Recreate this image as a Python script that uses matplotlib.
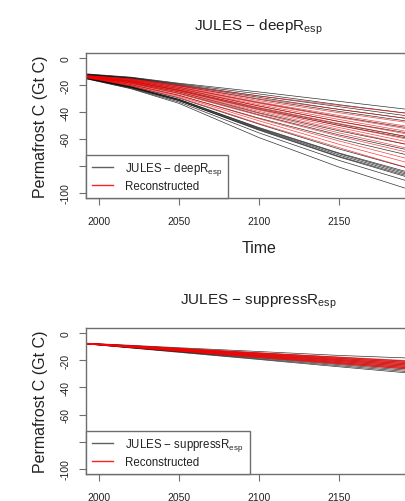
import matplotlib
matplotlib.use("Agg")
import matplotlib.pyplot as plt

plt.rcParams['font.family'] = ['Liberation Sans', 'DejaVu Sans']
plt.rcParams['mathtext.fontset'] = 'custom'
plt.rcParams['mathtext.rm'] = 'Liberation Sans'
plt.rcParams['mathtext.it'] = 'Liberation Sans'

years = [1992, 2020, 2050, 2100, 2150, 2200]

jules_deep = [
    [-11.5, -14.0, -18.5, -25.0, -32.0, -39],
    [-11.8, -14.3, -19.0, -26.5, -34.5, -42],
    [-12.0, -14.6, -19.5, -28.0, -36.0, -44],
    [-12.2, -14.8, -20.0, -29.0, -38.0, -46],
    [-12.5, -15.2, -20.5, -30.5, -39.5, -48],
    [-12.8, -15.8, -21.5, -33.0, -43.5, -53],
    [-13.0, -16.5, -22.5, -35.5, -47.0, -57],
    [-13.2, -17.0, -23.5, -37.0, -49.0, -60],
    [-13.3, -17.3, -24.0, -38.0, -50.0, -61],
    [-13.5, -18.0, -25.0, -40.5, -54.0, -66],
    [-13.7, -18.5, -26.0, -42.0, -57.0, -70],
    [-14.0, -19.5, -27.5, -44.5, -60.0, -74],
    [-14.2, -20.5, -29.5, -49.0, -67.5, -84],
    [-14.4, -21.0, -30.5, -51.5, -70.5, -87],
    [-14.5, -21.2, -30.5, -52.0, -71.0, -88],
    [-14.6, -21.4, -31.0, -52.5, -72.0, -89],
    [-14.7, -21.6, -31.5, -53.0, -73.0, -90],
    [-14.8, -21.8, -31.5, -53.5, -73.5, -91],
    [-15.0, -22.2, -32.5, -55.5, -76.0, -94],
    [-15.2, -22.6, -33.5, -59.0, -81.0, -100],
]

recon_deep = [
    [-12.8, -15.2, -20.0, -28.0, -35.0, -42],
    [-13.0, -15.6, -20.5, -30.0, -38.0, -46],
    [-13.1, -15.9, -21.0, -31.5, -40.5, -49],
    [-13.2, -16.2, -21.5, -32.5, -42.5, -52],
    [-13.3, -16.5, -22.0, -33.5, -44.0, -54],
    [-13.4, -16.8, -22.5, -34.5, -45.5, -56],
    [-13.5, -17.1, -23.0, -35.5, -47.0, -58],
    [-13.6, -17.4, -23.5, -36.5, -48.5, -60],
    [-13.7, -17.7, -24.0, -37.5, -50.0, -62],
    [-13.8, -18.0, -24.5, -38.5, -51.5, -64],
    [-13.9, -18.3, -25.0, -39.5, -53.0, -66],
    [-14.0, -18.7, -25.8, -41.0, -55.5, -69],
    [-14.1, -19.1, -26.5, -42.5, -58.0, -72],
    [-14.2, -19.6, -27.5, -45.0, -61.5, -77],
    [-14.3, -20.0, -28.2, -46.5, -64.0, -80],
    [-14.4, -20.5, -29.0, -48.5, -66.5, -84],
]

jules_suppress = [
    [-7.2, -8.8, -10.6, -13.4, -16.3, -18.5],
    [-7.3, -9.1, -11.1, -14.4, -17.7, -21.0],
    [-7.4, -9.4, -11.5, -15.0, -18.5, -22.0],
    [-7.4, -9.5, -11.8, -15.5, -19.3, -23.0],
    [-7.5, -9.7, -12.1, -16.1, -20.0, -24.0],
    [-7.5, -9.9, -12.4, -16.6, -20.8, -25.0],
    [-7.6, -10.1, -12.7, -17.1, -21.6, -26.0],
    [-7.6, -10.2, -13.0, -17.7, -22.3, -27.0],
    [-7.7, -10.4, -13.4, -18.2, -23.1, -28.0],
    [-7.7, -10.6, -13.6, -18.8, -23.9, -29.0],
    [-7.8, -10.8, -14.0, -19.3, -24.7, -30.0],
]

recon_suppress = [
    [-7.3, -9.1, -11.0, -14.3, -17.4, -20.5],
    [-7.3, -9.2, -11.2, -14.6, -17.9, -21.0],
    [-7.4, -9.3, -11.4, -14.9, -18.3, -21.5],
    [-7.4, -9.4, -11.5, -15.1, -18.7, -22.0],
    [-7.5, -9.5, -11.7, -15.4, -19.1, -22.5],
    [-7.5, -9.6, -11.9, -15.7, -19.5, -23.0],
    [-7.5, -9.7, -12.0, -16.0, -19.9, -23.5],
    [-7.6, -9.8, -12.2, -16.2, -20.2, -24.0],
    [-7.6, -9.9, -12.4, -16.5, -20.6, -24.5],
    [-7.6, -10.0, -12.5, -16.8, -21.0, -25.0],
    [-7.7, -10.1, -12.7, -17.0, -21.4, -25.5],
    [-7.7, -10.2, -12.9, -17.3, -21.8, -26.0],
    [-7.7, -10.3, -13.0, -17.6, -22.2, -26.5],
    [-7.8, -10.4, -13.2, -17.9, -22.6, -27.0],
]

xticks = [2000, 2050, 2100, 2150, 2200]
xtick_labels = ['2000', '2050', '2100', '2150', '']
yticks = [0, -20, -40, -60, -80, -100]
ytick_labels = ['0', '-20', '-40', '-60', '', '-100']

W, H = 406, 502
fig = plt.figure(figsize=(W / 100, H / 100), dpi=100)

spine_col = '#6e6e6e'
txt_col = '#222222'


def panel(top_px, bot_px, jules, recon, title, name, xlabel):
    ax = fig.add_axes([86 / W, 1 - bot_px / H, 346 / W, (bot_px - top_px) / H])
    for row in jules:
        ax.plot(years, row, color='black', lw=0.5, alpha=0.8)
    for row in recon:
        ax.plot(years, row, color='red', lw=0.5, alpha=0.75)
    ax.set_xlim(1992, 2208)
    ax.set_ylim(-104, 4)
    ax.set_xticks(xticks)
    ax.set_xticklabels(xtick_labels)
    ax.set_yticks(yticks)
    ax.set_yticklabels(ytick_labels, rotation=90, va='center')
    ax.tick_params(axis='both', direction='out', length=5, width=0.8,
                   color=spine_col, labelcolor=txt_col, labelsize=7.5)
    ax.tick_params(axis='x', pad=8)
    ax.tick_params(axis='y', pad=6)
    for s in ax.spines.values():
        s.set_color(spine_col)
        s.set_linewidth(1.0)
    ax.set_ylabel('Permafrost C (Gt C)', fontsize=11.5, color=txt_col, labelpad=9)
    if xlabel:
        ax.set_xlabel('Time', fontsize=11.5, color=txt_col, labelpad=10)
    fig.text(258 / W, 1 - (top_px - 27) / H, title, ha='center', va='center',
             fontsize=11, color=txt_col)
    h1, = ax.plot([], [], color='#606060', lw=1.0)
    h2, = ax.plot([], [], color='#ff2020', lw=1.0)
    leg = ax.legend([h1, h2], [name, 'Reconstructed'], loc='lower left',
                    bbox_to_anchor=(0, 0), borderaxespad=0, fancybox=False,
                    framealpha=1, edgecolor=spine_col, fontsize=8.3,
                    handlelength=1.8, handletextpad=1.1, borderpad=0.5,
                    labelspacing=0.25)
    leg.get_frame().set_linewidth(1.0)
    for t in leg.get_texts():
        t.set_color(txt_col)
    return ax


panel(54, 199, jules_deep, recon_deep, r'JULES $-$ deepR$_{\mathrm{esp}}$',
      r'JULES $-$ deepR$_{\mathrm{esp}}$', True)
panel(329, 475, jules_suppress, recon_suppress, r'JULES $-$ suppressR$_{\mathrm{esp}}$',
      r'JULES $-$ suppressR$_{\mathrm{esp}}$', False)

fig.savefig('out.png', dpi=100)
